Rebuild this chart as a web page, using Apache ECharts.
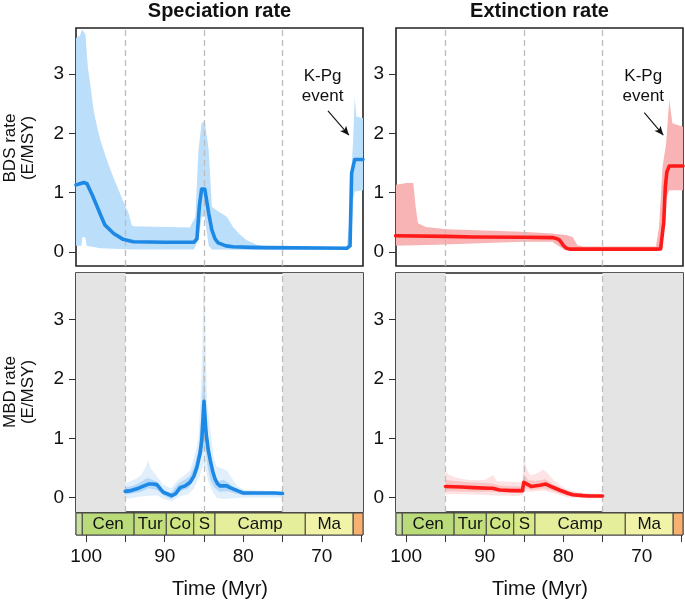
<!DOCTYPE html>
<html><head><meta charset="utf-8">
<script src="https://cdn.jsdelivr.net/npm/echarts@6/dist/echarts.min.js"></script>
<style>html,body{margin:0;padding:0;background:#fff}#c{width:685px;height:602px}</style>
</head><body><div id="c"></div>
<script>
// ---------------- DATA ----------------
const boundaryTimes = [95, 85, 75];
const yTicks = [0, 1, 2, 3];
const xTickTimes = [100, 95, 90, 85, 80, 75, 70, 65];
const xLabelTimes = [100, 90, 80, 70];
const stageNames = ['', 'Cen', 'Tur', 'Co', 'S', 'Camp', 'Ma', ''];
const stageStart = [113.0, 100.5, 93.9, 89.8, 86.3, 83.6, 72.1, 66.0];
const stageEnd   = [100.5, 93.9, 89.8, 86.3, 83.6, 72.1, 66.0, 61.6];
const mbdWindow = [95, 75];

// BDS speciation
const bdsSpecTime = [101.3,100.8,100.3,99.9,99.2,98.6,98.1,97.6,96.5,95.3,94.0,90,86.3,85.9,85.6,85.3,84.9,84.4,84.0,83.6,83.2,82.2,81.3,79,77.0,70,66.8,66.4,66.2,65.8,64.75];
const bdsSpecRate = [1.13,1.15,1.17,1.15,0.95,0.76,0.6,0.45,0.31,0.21,0.17,0.16,0.16,0.22,0.76,1.06,1.06,0.65,0.37,0.22,0.15,0.1,0.085,0.075,0.07,0.065,0.06,0.1,1.33,1.56,1.56];
const bdsSpecUpTime = [101.3,100.8,100.55,100.1,99.8,99.4,99.07,98.6,98.2,97.5,96.9,96.3,95.7,95.1,94.6,94.2,94.0,86.8,86.1,85.7,85.3,84.9,84.4,84.0,83.4,82.1,81.3,80.5,79.6,78.3,77.0,66.8,66.4,66.2,66.0,65.8,65.6,64.75];
const bdsSpecUp = [3.61,3.65,3.75,3.68,3.13,2.75,2.4,2.1,1.89,1.6,1.38,1.18,0.99,0.8,0.65,0.45,0.43,0.41,0.59,1.72,2.18,2.2,1.72,0.76,0.7,0.59,0.42,0.3,0.2,0.12,0.085,0.085,0.65,1.44,1.89,2.62,2.28,2.26];
const bdsSpecLoTime = [101.3,100.6,100.5,100.1,99.95,98.2,94.0,86.3,85.7,85.3,84.9,84.4,84.0,77,66.8,66.2,66.0,65.8,64.75];
const bdsSpecLo = [0.1,0.1,0.25,0.24,0.1,0.06,0.04,0.04,0.2,0.59,0.59,0.1,0.04,0.03,0.03,0.31,0.87,1.02,1.04];

// BDS extinction
const bdsExtTime = [101.35,95,91.5,85,81.35,80.8,80.5,80.2,80.0,79.6,79.2,68.2,67.6,67.35,67.2,67.0,66.8,66.5,64.75];
const bdsExtRate = [0.27,0.26,0.25,0.245,0.24,0.22,0.2,0.15,0.11,0.06,0.045,0.045,0.05,0.08,0.5,1.1,1.35,1.45,1.45];
const bdsExtUpTime = [101.35,100.5,100.0,99.1,98.8,98.5,97.5,94.9,90,85.2,81.4,79.5,78.8,78.2,77.5,68.2,67.8,67.35,66.9,66.5,66.1,64.75];
const bdsExtUp = [1.13,1.15,1.16,1.16,0.76,0.48,0.42,0.38,0.36,0.34,0.31,0.28,0.25,0.11,0.09,0.09,0.42,1.44,1.83,2.57,2.17,2.11];
const bdsExtLoTime = [101.35,96,91.5,85.2,81.4,80.5,79.8,68.0,67.35,67.0,66.5,64.75];
const bdsExtLo = [0.1,0.12,0.14,0.17,0.17,0.09,0.03,0.03,0.05,0.87,1.04,1.04];

// MBD speciation
const mbdSpecTime = [95.04,94.3,93.55,92.8,92.07,91.5,91.0,90.5,90.17,89.6,89.1,88.6,88.04,87.4,86.77,86.3,85.9,85.5,85.28,85.0,84.73,84.45,84.2,83.9,83.6,83.3,83.0,82.6,82.1,81.7,81.3,80.6,80.0,77,76,75];
const mbdSpecRate = [0.107,0.12,0.15,0.19,0.23,0.23,0.22,0.14,0.09,0.06,0.034,0.07,0.17,0.2,0.26,0.36,0.51,0.75,0.97,1.62,1.08,0.8,0.63,0.45,0.32,0.24,0.2,0.2,0.2,0.17,0.15,0.11,0.08,0.08,0.08,0.07];
const mbdSpecOutUpTime = [95.0,94.0,93.0,92.3,92.1,91.8,91.0,90.2,89.2,88.3,87.5,86.8,86.2,85.7,85.4,85.2,85.05,84.95,84.8,84.6,84.2,83.8,83.4,82.8,82.1,81.5,80.8,80.0,78,75.0];
const mbdSpecOutUp = [0.24,0.3,0.38,0.55,0.63,0.5,0.36,0.22,0.16,0.3,0.38,0.46,0.7,1.0,1.8,2.6,3.8,3.8,2.6,1.6,1.15,0.7,0.52,0.5,0.46,0.34,0.2,0.14,0.12,0.11];
const mbdSpecOutLoTime = [95.0,93,91,90,89.1,88,87,86.3,85.6,85.1,84.9,84.5,84.0,83.4,82.5,80,75];
const mbdSpecOutLo = [-0.02,0.02,0.04,-0.03,-0.06,0.03,0.06,0.15,0.35,0.55,0.55,0.3,0.12,0.0,-0.02,0.0,0.0];
const mbdSpecInUpTime = [95,94,93,92.2,91.5,91,90.2,89.2,88.3,87.5,86.8,86.2,85.7,85.4,85.1,85.0,84.9,84.7,84.4,84.1,83.7,83.2,82.5,82.0,81.0,80,75];
const mbdSpecInUp = [0.17,0.2,0.27,0.33,0.3,0.27,0.14,0.08,0.24,0.3,0.36,0.55,0.8,1.3,2.0,2.5,1.9,1.3,0.9,0.6,0.4,0.28,0.3,0.26,0.16,0.11,0.09];
const mbdSpecInLoTime = [95,93,92,91,90.2,89.2,88.2,87,86.3,85.7,85.2,85.0,84.8,84.5,84.2,83.7,83,82,81,80,75];
const mbdSpecInLo = [0.05,0.1,0.16,0.13,0.04,-0.02,0.1,0.16,0.3,0.55,0.75,0.85,0.8,0.5,0.3,0.17,0.1,0.11,0.07,0.04,0.04];

// MBD extinction
const mbdExtTime = [95,93,91.5,89.5,89.0,88.1,86.5,85.2,85.03,84.1,83,82.2,81.4,80.5,79.5,78.8,77.5,76.7,75];
const mbdExtRate = [0.19,0.18,0.17,0.16,0.16,0.13,0.12,0.12,0.26,0.19,0.21,0.23,0.18,0.13,0.08,0.05,0.035,0.03,0.03];
const mbdExtOutUpTime = [95,94.5,93.5,92,90,89.2,88.9,88.5,87,85.2,85.05,84.7,84.2,83.5,82.6,82.2,81.5,80.5,79.5,78,75];
const mbdExtOutUp = [0.45,0.38,0.33,0.3,0.3,0.36,0.38,0.28,0.27,0.26,0.72,0.5,0.38,0.4,0.47,0.44,0.33,0.22,0.14,0.09,0.06];
const mbdExtOutLoTime = [95,92,89,86,85.2,85.0,84,82.5,81,79.5,77,75];
const mbdExtOutLo = [0.06,0.06,0.04,0.03,0.04,0.1,0.1,0.12,0.07,0.01,-0.01,-0.01];
const mbdExtInUpTime = [95,92,89,88,85.2,85.05,84.5,83.5,82.3,81,79.5,77,75];
const mbdExtInUp = [0.3,0.26,0.24,0.2,0.19,0.4,0.3,0.28,0.31,0.2,0.1,0.06,0.05];
const mbdExtInLoTime = [95,92,89,85.2,85.0,84,82.5,81,79.5,77,75];
const mbdExtInLo = [0.11,0.1,0.1,0.07,0.17,0.13,0.16,0.1,0.03,0.01,0.01];

// K-Pg annotation (data coords)
const kpgLabelLeft = [69.89, 2.80];
const kpgArrowLeft = [[69.21, 2.38], [66.54, 1.97]];
const kpgLabelRight = [69.81, 2.80];
const kpgArrowRight = [[69.68, 2.35], [67.26, 1.97]];

// ---------------- STYLE ----------------
const FONT = '"Liberation Sans", Arial, Helvetica, sans-serif';
const stageColors = ['#C6E29E','#BADB7A','#C2DF7C','#CEE583','#D8EA88','#E5EE9B','#F1F3A8','#F8B071'];
const BLUE = '#1E88E5', RED = '#FF1A1A';
const X_MIN = 64.75, X_MAX = 101.3, Y_MIN = -0.24, Y_MAX = 3.78;

const chart = echarts.init(document.getElementById('c'), null, {renderer: 'canvas'});
const zip = (t, v) => t.map((x, i) => [x, v[i]]);

const panelGrids = [
  {left: 76, top: 28, width: 287, height: 238},
  {left: 396, top: 28, width: 287, height: 238},
  {left: 76, top: 273, width: 287, height: 239},
  {left: 396, top: 273, width: 287, height: 239}
];
const scaleGrids = [
  {left: 76, top: 513, width: 287, height: 22},
  {left: 396, top: 513, width: 287, height: 22}
];
const grids = panelGrids.concat(scaleGrids).map((g, i) => Object.assign({
  show: true, borderColor: i < 4 ? '#222' : '#444', borderWidth: i < 4 ? 1.6 : 1, backgroundColor: 'transparent'
}, g));

const xAxes = [], yAxes = [];
for (let i = 0; i < 4; i++) {
  xAxes.push({type: 'value', gridIndex: i, min: X_MIN, max: X_MAX, inverse: true, show: false});
  yAxes.push({type: 'value', gridIndex: i, min: Y_MIN, max: Y_MAX,
    axisLine: {show: false}, splitLine: {show: false},
    axisTick: {show: true, customValues: yTicks, length: 7, lineStyle: {color: '#333', width: 1}},
    axisLabel: {show: true, customValues: yTicks, fontSize: 19, margin: 12, color: '#111', fontFamily: FONT}});
}
for (let i = 4; i < 6; i++) {
  xAxes.push({type: 'value', gridIndex: i, min: X_MIN, max: X_MAX, inverse: true, position: 'bottom',
    axisLine: {show: false}, splitLine: {show: false},
    axisTick: {show: true, customValues: xTickTimes, length: 7, lineStyle: {color: '#333', width: 1}},
    axisLabel: {show: true, customValues: xLabelTimes, fontSize: 19, margin: 12, color: '#111', fontFamily: FONT}});
  yAxes.push({type: 'value', gridIndex: i, min: 0, max: 1, show: false});
}

function band(idx, ut, uv, lt, lv, color, z) {
  return {type: 'custom', xAxisIndex: idx, yAxisIndex: idx, z: z, silent: true, clip: true,
    data: [[ut[0], uv[0]]],
    renderItem: function (params, api) {
      const pts = [];
      for (let i = 0; i < ut.length; i++) pts.push(api.coord([ut[i], uv[i]]));
      for (let i = lt.length - 1; i >= 0; i--) pts.push(api.coord([lt[i], lv[i]]));
      return {type: 'polygon', shape: {points: pts}, style: {fill: color}};
    }};
}

function line(idx, t, v, color, opts) {
  const mlData = boundaryTimes.map(b => ({xAxis: b}));
  if (opts.arrow) {
    mlData.push([
      {coord: opts.arrow[0], symbol: 'none', lineStyle: {type: 'solid', color: '#111', width: 1.1}},
      {coord: opts.arrow[1], symbol: 'arrow', symbolSize: [6, 9]}
    ]);
  }
  const s = {type: 'line', xAxisIndex: idx, yAxisIndex: idx, z: 6, silent: true,
    data: zip(t, v), showSymbol: false, symbol: 'none', clip: true,
    lineStyle: {color: color, width: 3.6, join: 'round', cap: 'round'},
    markLine: {silent: true, z: 5, symbol: ['none', 'none'], label: {show: false}, animation: false,
      lineStyle: {type: [6, 4], color: '#BDBDBD', width: 1.3}, data: mlData}
  };
  if (opts.label) {
    s.markPoint = {silent: true, animation: false, data: [{coord: opts.label, symbol: 'circle', symbolSize: 0,
      label: {show: true, position: 'inside', formatter: 'K-Pg\nevent', fontSize: 17, lineHeight: 20, color: '#111', fontFamily: FONT}}]};
  }
  if (opts.gray) {
    s.markArea = {silent: true, animation: false, itemStyle: {color: '#E4E4E4'}, data: [
      [{xAxis: X_MAX}, {xAxis: mbdWindow[0]}],
      [{xAxis: mbdWindow[1]}, {xAxis: X_MIN}]
    ]};
  }
  return s;
}

function timescale(idx) {
  return {type: 'custom', xAxisIndex: idx, yAxisIndex: idx, z: 3, silent: true,
    data: stageStart.map((s, i) => [s, stageEnd[i], i]),
    encode: {x: [0, 1]},
    renderItem: function (params, api) {
      const i = api.value(2);
      const p0 = api.coord([api.value(0), 1]);
      const p1 = api.coord([api.value(1), 0]);
      const cs = params.coordSys;
      const r = echarts.graphic.clipRectByRect(
        {x: p0[0], y: p0[1], width: p1[0] - p0[0], height: p1[1] - p0[1]},
        {x: cs.x, y: cs.y, width: cs.width, height: cs.height});
      if (!r) return null;
      return {type: 'rect', shape: r, style: {fill: stageColors[i], stroke: '#444', lineWidth: 1},
        textContent: {style: {text: stageNames[i], fontSize: 17, fill: '#111', fontFamily: FONT}},
        textConfig: {position: 'inside'}};
    }};
}

const series = [
  band(0, bdsSpecUpTime, bdsSpecUp, bdsSpecLoTime, bdsSpecLo, '#BBDEFB', 2),
  line(0, bdsSpecTime, bdsSpecRate, BLUE, {label: kpgLabelLeft, arrow: kpgArrowLeft}),
  band(1, bdsExtUpTime, bdsExtUp, bdsExtLoTime, bdsExtLo, '#F8B4B4', 2),
  line(1, bdsExtTime, bdsExtRate, RED, {label: kpgLabelRight, arrow: kpgArrowRight}),
  band(2, mbdSpecOutUpTime, mbdSpecOutUp, mbdSpecOutLoTime, mbdSpecOutLo, '#E1EFFD', 2),
  band(2, mbdSpecInUpTime, mbdSpecInUp, mbdSpecInLoTime, mbdSpecInLo, '#B3D8F8', 3),
  line(2, mbdSpecTime, mbdSpecRate, BLUE, {gray: true}),
  band(3, mbdExtOutUpTime, mbdExtOutUp, mbdExtOutLoTime, mbdExtOutLo, '#FDE3E3', 2),
  band(3, mbdExtInUpTime, mbdExtInUp, mbdExtInLoTime, mbdExtInLo, '#FAC4C4', 3),
  line(3, mbdExtTime, mbdExtRate, RED, {gray: true}),
  timescale(4),
  timescale(5)
];

const txt = (text, x, y, size, extra) => Object.assign({type: 'text', x: x, y: y, silent: true,
  style: {text: text, fontSize: size, fontFamily: FONT, fill: '#111', align: 'center', verticalAlign: 'middle', lineHeight: 18}}, extra || {});
const graphic = [
  txt('Speciation rate', 219.5, 11, 20, {style: {text: 'Speciation rate', fontSize: 20, fontWeight: 'bold', fontFamily: FONT, fill: '#111', align: 'center', verticalAlign: 'middle'}}),
  txt('Extinction rate', 539.5, 11, 20, {style: {text: 'Extinction rate', fontSize: 20, fontWeight: 'bold', fontFamily: FONT, fill: '#111', align: 'center', verticalAlign: 'middle'}}),
  txt('BDS rate\n(E/MSY)', 19, 148, 17, {rotation: Math.PI / 2}),
  txt('MBD rate\n(E/MSY)', 19, 392, 17, {rotation: Math.PI / 2}),
  txt('Time (Myr)', 220, 589, 20),
  txt('Time (Myr)', 540, 589, 20)
];

chart.setOption({
  animation: false,
  textStyle: {fontFamily: FONT},
  grid: grids,
  xAxis: xAxes,
  yAxis: yAxes,
  series: series,
  graphic: graphic
});
</script></body></html>
